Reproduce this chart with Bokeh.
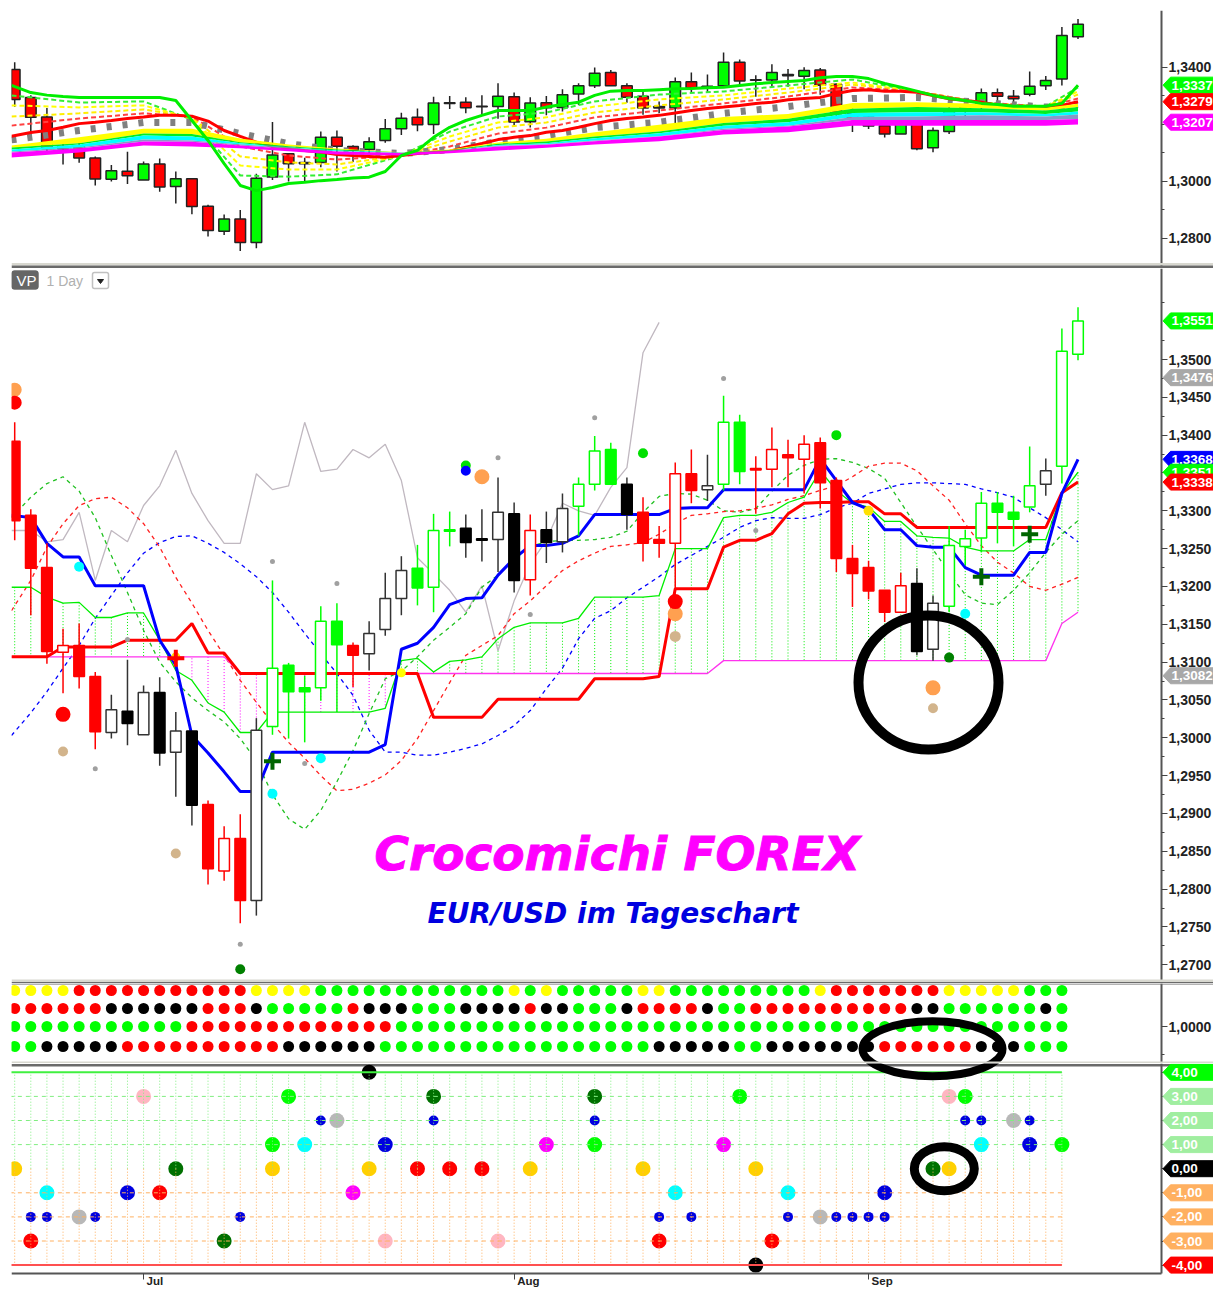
from bokeh.plotting import figure
from bokeh.layouts import column
from bokeh.embed import file_html
from bokeh.resources import INLINE
from bokeh.models import (Range1d, FixedTicker, CustomJSTickFormatter, Label, LinearAxis,
                          PolyAnnotation, BoxAnnotation)

# ---------- candles (EUR/USD daily) ----------
opens = [1.3392,1.3294,1.3225,1.3113,1.3122,1.3081,1.3007,1.3035,1.3004,1.3060,1.2981,1.3009,1.2912,1.2824,1.2867,1.2785,1.3015,
         1.3096,1.3066,1.3066,1.3154,1.3122,1.3111,1.3143,1.3184,1.3224,1.3199,1.3275,1.3277,1.3263,1.3262,1.3296,1.3209,1.3275,
         1.3259,1.3306,1.3335,1.3381,1.3335,1.3298,1.3262,1.3257,1.3349,1.3328,1.3335,1.3417,1.3356,1.3355,1.3374,1.3368,1.3390,
         1.3340,1.3237,1.3225,1.3195,1.3166,1.3204,1.3117,1.3174,1.3253,1.3264,1.3310,1.3298,1.3305,1.3335,1.3359,1.3507]
highs = [1.3417,1.3302,1.3257,1.3144,1.3151,1.3087,1.3057,1.3103,1.3069,1.3080,1.3034,1.3009,1.2917,1.2883,1.2899,1.3026,1.3208,
         1.3099,1.3082,1.3174,1.3178,1.3126,1.3154,1.3218,1.3240,1.3255,1.3296,1.3299,1.3295,1.3302,1.3344,1.3311,1.3295,1.3299,
         1.3323,1.3344,1.3399,1.3390,1.3344,1.3318,1.3280,1.3364,1.3381,1.3374,1.3452,1.3427,1.3372,1.3410,1.3394,1.3400,1.3397,
         1.3344,1.3255,1.3234,1.3195,1.3218,1.3224,1.3188,1.3280,1.3275,1.3325,1.3325,1.3320,1.3385,1.3369,1.3541,1.3569]
lows = [1.3261,1.3162,1.3098,1.3059,1.3065,1.2985,1.2999,1.2990,1.3004,1.2963,1.2922,1.2884,1.2806,1.2811,1.2755,1.2765,1.3004,
        1.2999,1.2994,1.3049,1.3034,1.3067,1.3089,1.3135,1.3162,1.3175,1.3166,1.3253,1.3238,1.3233,1.3219,1.3192,1.3188,1.3231,
        1.3245,1.3267,1.3327,1.3335,1.3275,1.3233,1.3238,1.3191,1.3310,1.3313,1.3327,1.3335,1.3296,1.3331,1.3331,1.3323,1.3303,
        1.3219,1.3173,1.3183,1.3153,1.3166,1.3109,1.3102,1.3166,1.3228,1.3245,1.3257,1.3253,1.3298,1.3320,1.3336,1.3499]
closes = [1.3287,1.3224,1.3114,1.3122,1.3081,1.3008,1.3037,1.3019,1.3060,1.2980,1.3009,1.2911,1.2827,1.2867,1.2785,1.3010,1.3092,
          1.3061,1.3061,1.3154,1.3123,1.3109,1.3138,1.3184,1.3221,1.3198,1.3274,1.3273,1.3258,1.3261,1.3298,1.3208,1.3274,1.3258,
          1.3303,1.3335,1.3379,1.3335,1.3295,1.3257,1.3257,1.3349,1.3327,1.3333,1.3417,1.3352,1.3354,1.3381,1.3370,1.3388,1.3337,
          1.3237,1.3217,1.3194,1.3166,1.3201,1.3114,1.3178,1.3254,1.3263,1.3310,1.3298,1.3289,1.3333,1.3353,1.3511,1.3551]

# ---------- signal rows (panel 3) ----------
row1 = "YYYYRRRRRRRRRRRYYYYGGGGGGGGGGGGYGYGGGGGYYGGGGGGGGGYRRRRRRRYYYYYGGG"
row2 = "RRRRRRKKKKKKRRRKGGGGGRKKKGGGKKKKRKKGGGKRRRRKGGRRRRRRRRRRKKGGGGGGKG"
row3 = "G" * 11 + "R" * 13 + "G" * 42
row4 = "GGKKKKKRRRRRRRRRRKKKKKKGGGGGGGGGGGGGGGGGKKKKKGGKKKKKKKRRRRRRKKKGGG"
row_levels = [1.36, 1.18, 1.00, 0.80]
candle_codes = row2 + "G"

# ---------- main panel lines ----------
kijun_blue = [1.3294,1.3291,1.3257,1.3239,1.3239,1.3201,1.3201,1.3201,1.3201,1.3129,1.3096,1.3003,1.2980,1.2955,1.2929,1.2929,1.2981,
              1.2981,1.2981,1.2981,1.2981,1.2981,1.2981,1.2991,1.3117,1.3125,1.3146,1.3176,1.3184,1.3185,1.3215,1.3237,1.3254,1.3254,
              1.3257,1.3267,1.3295,1.3295,1.3295,1.3295,1.3295,1.3303,1.3304,1.3304,1.3328,1.3328,1.3328,1.3328,1.3328,1.3328,1.3369,
              1.3340,1.3311,1.3302,1.3275,1.3275,1.3254,1.3252,1.3252,1.3225,1.3215,1.3215,1.3215,1.3245,1.3245,1.3323,1.3368]
tenkan_red = [1.3107,1.3107,1.3107,1.3120,1.3120,1.3120,1.3120,1.3129,1.3129,1.3129,1.3129,1.3151,1.3112,1.3112,1.3085,1.3085,1.3085,
              1.3085,1.3085,1.3085,1.3085,1.3085,1.3085,1.3085,1.3085,1.3085,1.3027,1.3027,1.3027,1.3027,1.3051,1.3051,1.3051,1.3051,
              1.3051,1.3051,1.3078,1.3078,1.3078,1.3078,1.3081,1.3197,1.3197,1.3197,1.3252,1.3261,1.3261,1.3270,1.3296,1.3310,1.3311,
              1.3311,1.3312,1.3312,1.3296,1.3296,1.3278,1.3278,1.3278,1.3278,1.3278,1.3278,1.3278,1.3278,1.3278,1.3324,1.3338]
cloud_green = [1.3199,1.3199,1.3186,1.3178,1.3179,1.3159,1.3159,1.3165,1.3165,1.3129,1.3089,1.3076,1.3046,1.3034,1.3007,1.3007,1.3034,
               1.3034,1.3034,1.3034,1.3034,1.3034,1.3034,1.3039,1.3102,1.3105,1.3087,1.3101,1.3103,1.3107,1.3131,1.3146,1.3152,1.3152,
               1.3152,1.3158,1.3186,1.3186,1.3186,1.3186,1.3188,1.3250,1.3250,1.3250,1.3291,1.3294,1.3294,1.3298,1.3311,1.3318,1.3353,
               1.3327,1.3310,1.3305,1.3286,1.3286,1.3267,1.3265,1.3264,1.3252,1.3247,1.3247,1.3247,1.3262,1.3262,1.3323,1.3351]
cloud_magenta = [1.3107]*14 + [1.3085]*30 + [1.3102]*21 + [1.3151,1.3166]
dash_blue = [1.3003,1.3033,1.3061,1.3092,1.3122,1.3158,1.3188,1.3218,1.3244,1.3258,1.3266,1.3267,1.3257,1.3245,1.3230,1.3213,1.3192,
             1.3166,1.3138,1.3111,1.3085,1.3056,1.3010,1.2981,1.2981,1.2977,1.2977,1.2981,1.2986,1.2992,1.3003,1.3016,1.3036,1.3065,
             1.3092,1.3131,1.3158,1.3168,1.3185,1.3199,1.3213,1.3229,1.3241,1.3253,1.3265,1.3278,1.3287,1.3291,1.3290,1.3290,1.3295,
             1.3304,1.3310,1.3323,1.3329,1.3335,1.3337,1.3337,1.3336,1.3335,1.3329,1.3324,1.3318,1.3304,1.3291,1.3275,1.3259]
dash_green = [1.3291,1.3318,1.3336,1.3345,1.3326,1.3291,1.3241,1.3192,1.3142,1.3100,1.3074,1.3053,1.3036,1.3021,1.2999,1.2970,1.2925,
              1.2893,1.2879,1.2904,1.2942,1.2983,1.3032,1.3078,1.3088,1.3107,1.3129,1.3146,1.3164,1.3199,1.3215,1.3237,1.3253,1.3259,
              1.3261,1.3261,1.3262,1.3265,1.3273,1.3298,1.3319,1.3323,1.3322,1.3314,1.3300,1.3298,1.3303,1.3326,1.3347,1.3360,1.3368,
              1.3369,1.3364,1.3356,1.3343,1.3311,1.3279,1.3249,1.3218,1.3189,1.3178,1.3176,1.3195,1.3218,1.3245,1.3269,1.3287]
dash_red = [1.3168,1.3208,1.3252,1.3283,1.3307,1.3316,1.3318,1.3304,1.3283,1.3252,1.3212,1.3178,1.3142,1.3109,1.3076,1.3047,1.3019,
            1.2994,1.2973,1.2950,1.2930,1.2932,1.2940,1.2951,1.2970,1.2999,1.3036,1.3073,1.3109,1.3122,1.3135,1.3164,1.3181,1.3201,
            1.3221,1.3234,1.3244,1.3253,1.3255,1.3258,1.3269,1.3283,1.3294,1.3296,1.3299,1.3300,1.3303,1.3308,1.3315,1.3320,1.3327,
            1.3333,1.3345,1.3359,1.3363,1.3363,1.3353,1.3333,1.3314,1.3283,1.3254,1.3232,1.3218,1.3200,1.3195,1.3203,1.3212]
chikou_gray = [1.3274,1.3274,1.3259,1.3262,1.3298,1.3208,1.3274,1.3259,1.3307,1.3333,1.3380,1.3323,1.3287,1.3257,1.3257,1.3349,1.3328,
               1.3333,1.3417,1.3352,1.3355,1.3381,1.3370,1.3388,1.3340,1.3238,1.3217,1.3195,1.3166,1.3201,1.3115,1.3181,1.3230,1.3261,
               1.3310,1.3300,1.3294,1.3331,1.3357,1.3509,1.3549]

# main-panel dots: bar index, price, colour, size
dot_i = [0,0,4,3,3,5,10,14,14,16,19,16,18,20,7,10,24,30,28,28,29,32,36,39,44,46,41,41,41,51,53,59,58,57,57]
dot_p = [1.3460,1.3443,1.3226,1.3031,1.2982,1.2959,1.2847,1.2727,1.2694,1.2926,1.2973,1.3233,1.2966,1.3204,1.3130,1.3107,1.3086,
         1.3370,1.3360,1.3353,1.3345,1.3163,1.3423,1.3376,1.3475,1.3274,1.3164,1.3180,1.3134,1.3400,1.3300,1.3164,1.3106,1.3066,1.3039]
dot_c = ["#ffa050","#ff0000","#00ffff","#ff0000","#d2b48c","#a0a0a0","#d2b48c","#a0a0a0","#008000","#00ffff","#00ffff","#a0a0a0",
         "#a0a0a0","#a0a0a0","#a0a0a0","#ffe000","#ffff00","#a0a0a0","#00e000","#0000ff","#ffa050","#a0a0a0","#a0a0a0","#00e000",
         "#a0a0a0","#a0a0a0","#ffa050","#ff0000","#d2b48c","#00e000","#ffe000","#00ffff","#008000","#ffa050","#d2b48c"]
dot_s = [14,14,10,15,10,5,10,5,10,10,10,5,5,5,5,9,9,5,10,10,15,5,5,10,5,5,15,15,11,10,10,10,10,15,10]
plus_i = [10,16,60,63]
plus_p = [1.3105,1.2969,1.3213,1.3269]
plus_c = ["#ff0000","#006400","#006400","#006400"]

# ---------- top panel ribbon ----------
up_green = [1.3336,1.3311,1.3302,1.3297,1.3294,1.3294,1.3294,1.3294,1.3294,1.3294,1.3283,1.3213,1.3143,1.3062,1.2985,1.2967,1.2978,
            1.2992,1.2996,1.3002,1.3006,1.3011,1.3014,1.3034,1.3090,1.3108,1.3154,1.3189,1.3213,1.3231,1.3248,1.3248,1.3248,1.3260,
            1.3269,1.3277,1.3301,1.3316,1.3318,1.3318,1.3321,1.3324,1.3325,1.3328,1.3330,1.3336,1.3342,1.3346,1.3350,1.3353,1.3363,
            1.3367,1.3367,1.3360,1.3343,1.3330,1.3316,1.3301,1.3290,1.3283,1.3273,1.3269,1.3263,1.3263,1.3263,1.3273,1.3337]
up_red = [1.3158,1.3171,1.3178,1.3189,1.3202,1.3207,1.3213,1.3220,1.3225,1.3231,1.3231,1.3228,1.3211,1.3178,1.3157,1.3137,1.3122,
          1.3115,1.3108,1.3102,1.3094,1.3090,1.3087,1.3084,1.3090,1.3097,1.3102,1.3105,1.3119,1.3132,1.3146,1.3154,1.3160,1.3172,
          1.3178,1.3189,1.3202,1.3213,1.3220,1.3225,1.3231,1.3239,1.3248,1.3255,1.3260,1.3266,1.3273,1.3277,1.3286,1.3290,1.3294,
          1.3308,1.3318,1.3321,1.3316,1.3316,1.3312,1.3301,1.3289,1.3283,1.3277,1.3266,1.3262,1.3260,1.3260,1.3266,1.3279]
rib_i = [-0.2,4,8,11,14,17,20,24,27,30,33,36,40,44,48,52,56,60,64,66]
rib_gray = [1.3145,1.3178,1.3206,1.3206,1.3167,1.3132,1.3108,1.3097,1.3111,1.3139,1.3160,1.3188,1.3207,1.3238,1.3262,1.3290,1.3294,1.3276,1.3260,1.3269]
rib_y = [1.3125,1.3154,1.3184,1.3184,1.3150,1.3129,1.3115,1.3102,1.3111,1.3136,1.3149,1.3172,1.3198,1.3225,1.3236,1.3274,1.3277,1.3272,1.3258,1.3272]
rib_g = [1.3118,1.3133,1.3167,1.3166,1.3137,1.3123,1.3111,1.3101,1.3109,1.3131,1.3139,1.3157,1.3174,1.3204,1.3219,1.3254,1.3260,1.3256,1.3248,1.3260]
rib_c = [1.3111,1.3129,1.3160,1.3157,1.3133,1.3119,1.3108,1.3101,1.3108,1.3127,1.3133,1.3151,1.3168,1.3195,1.3207,1.3239,1.3242,1.3242,1.3236,1.3245]
rib_b = [1.3104,1.3118,1.3146,1.3143,1.3129,1.3117,1.3105,1.3100,1.3107,1.3124,1.3130,1.3143,1.3158,1.3184,1.3195,1.3225,1.3227,1.3231,1.3227,1.3234]
rib_m = [1.3101,1.3115,1.3139,1.3138,1.3125,1.3115,1.3104,1.3099,1.3106,1.3122,1.3128,1.3140,1.3157,1.3180,1.3192,1.3215,1.3215,1.3215,1.3215,1.3218]
rib_e = [1.3083,1.3101,1.3125,1.3122,1.3116,1.3105,1.3094,1.3090,1.3098,1.3108,1.3117,1.3129,1.3140,1.3164,1.3172,1.3195,1.3195,1.3195,1.3195,1.3199]
ma_a = [1.3301,1.3276,1.3280,1.3216,1.3020,1.3016,1.3024,1.3090,1.3174,1.3227,1.3241,1.3280,1.3304,1.3315,1.3336,1.3357,1.3315,1.3273,1.3262,1.3329]
ma_b = [1.3266,1.3259,1.3266,1.3220,1.3055,1.3041,1.3041,1.3090,1.3157,1.3206,1.3224,1.3262,1.3287,1.3301,1.3325,1.3346,1.3315,1.3276,1.3262,1.3315]
ma_c = [1.3227,1.3238,1.3252,1.3224,1.3087,1.3066,1.3059,1.3090,1.3139,1.3188,1.3206,1.3241,1.3266,1.3287,1.3311,1.3339,1.3315,1.3276,1.3262,1.3304]
ma_d = [1.3195,1.3220,1.3238,1.3227,1.3122,1.3090,1.3076,1.3090,1.3122,1.3167,1.3188,1.3224,1.3248,1.3273,1.3297,1.3329,1.3315,1.3276,1.3262,1.3290]

# ---------- bottom panel dots: bar index, level, colour ----------
big_i = [0,1,2,4,7,8,9,10,13,16,16,17,18,20,21,22,22,23,23,25,26,27,29,30,32,33,36,36,39,40,41,44,45,46,46,47,48,50,54,57,58,58,59,60,62,63,65]
big_v = [0,-3,-1,-2,-1,3,-1,0,-3,1,0,3,1,2,-1,0,4,1,-3,0,3,0,0,-3,0,1,3,1,0,-3,-1,1,3,0,-4,-3,-1,-2,-1,0,0,3,3,1,2,1,1]
big_c = ["#ffd000","#ff0000","#00ffff","#b8b8b8","#0000e0","#ffb6c1","#ff0000","#007000","#007000","#00ff00","#ffd000","#00ff00",
         "#00ffff","#b8b8b8","#ff00ff","#ffd000","#000000","#0000e0","#ffb6c1","#ff0000","#007000","#ff0000","#ff0000","#ffb6c1",
         "#ffd000","#ff00ff","#007000","#00ff00","#ffd000","#ff0000","#00ffff","#ff00ff","#00ff00","#ffd000","#000000","#ff0000",
         "#00ffff","#b8b8b8","#0000e0","#007000","#ffd000","#ffb6c1","#00ff00","#00ffff","#b8b8b8","#0000e0","#00ff00"]
small_i = [1,2,5,14,19,26,36,40,42,48,51,52,53,54,59,60,63]
small_v = [-2,-2,-2,-2,2,2,2,-2,-2,-2,-2,-2,-2,-2,2,2,2]

# ---------- axis labels and tags ----------
top_labelled = [1.34, 1.30, 1.28]
top_minor = [1.33, 1.32, 1.31, 1.29]
main_labelled = [1.35,1.345,1.34,1.33,1.325,1.32,1.315,1.31,1.305,1.30,1.295,1.29,1.285,1.28,1.275,1.27]
main_minor = [1.3575,1.3525,1.3475,1.3425,1.3375,1.335,1.3325,1.3275,1.3225,1.3175,1.3125,1.3075,1.3025,1.2975,1.2925,1.2875,1.2825,1.2775,1.2725]
top_tags = [(1.3337, "1,3337", "#00ff00"), (1.3279, "1,3279", "#ff0000"), (1.3207, "1,3207", "#ff00ff")]
main_tags = [(1.3551, "1,3551", "#00ff00"), (1.3476, "1,3476", "#a8a8a8"), (1.3082, "1,3082", "#a8a8a8"),
             (1.3368, "1,3368", "#0000ff"), (1.3351, "1,3351", "#00ff00"), (1.3338, "1,3338", "#ff0000")]
osc_tags = [(4, "4,00", "#00ff00"), (3, "3,00", "#a0eea0"), (2, "2,00", "#a0eea0"), (1, "1,00", "#a0eea0"), (0, "0,00", "#000000"),
            (-1, "-1,00", "#ffb060"), (-2, "-2,00", "#ffb060"), (-3, "-3,00", "#ffb060"), (-4, "-4,00", "#ff0000")]
month_i = [8, 31, 53]
month_t = ["Jul", "Aug", "Sep"]

FONT = "Liberation Sans"
N = len(opens)
idx = list(range(N))
line_x = [-0.2] + idx[1:]   # line series run right up to the left edge of the panel
COL = {"R": "#ff0000", "G": "#00ff00", "K": "#000000", "Y": "#ffff00"}
W = 1213
AXIS_X = 71.186   # bar position of the price axis
x_range = Range1d(-0.1986, 74.41)
LABEL_FMT = CustomJSTickFormatter(code="return tick.toFixed(4).replace('.', ',')")
NO_LABEL = CustomJSTickFormatter(code="return ''")


def make(height, y0, y1, top, ax_lo=None, ax_hi=None):
    p = figure(width=W, height=height, x_range=x_range, y_range=Range1d(y0, y1), output_backend="svg",
               toolbar_location=None, x_axis_location=None, y_axis_location=None,
               min_border_left=11, min_border_right=0, min_border_top=top, min_border_bottom=0,
               outline_line_color=None, background_fill_color="white", border_fill_color="white")
    p.grid.visible = False
    ax = LinearAxis(fixed_location=AXIS_X)
    ax.axis_line_color = "#555555"
    ax.axis_line_width = 2
    ax.major_tick_line_color = "#444444"
    ax.minor_tick_line_color = "#444444"
    ax.major_tick_in = 0
    ax.minor_tick_in = 0
    ax.major_tick_out = 6
    ax.minor_tick_out = 3
    ax.major_label_standoff = 1
    ax.major_label_text_font = FONT
    ax.major_label_text_font_style = "bold"
    ax.major_label_text_font_size = "14px"
    ax.major_label_text_color = "#222222"
    if ax_lo is not None:
        ax.bounds = (ax_lo, ax_hi)
    p.add_layout(ax, "right")
    return p, ax


def tag(p, v, text, color, h):
    p.add_layout(PolyAnnotation(xs=[1162.5, 1170, 1214, 1214, 1170], ys=[v, v + h, v + h, v - h, v - h],
                                xs_units="canvas", ys_units="data", fill_color=color, fill_alpha=1.0,
                                line_color=color, line_alpha=1.0))
    p.add_layout(Label(x=1171, y=v, x_units="canvas", y_units="data", text=text, text_color="white",
                       text_font=FONT, text_font_style="bold", text_font_size="13.5px", text_baseline="middle"))


def band(p, top, bottom, color, level="annotation"):
    p.add_layout(BoxAnnotation(left=11, right=W, left_units="canvas", right_units="canvas", top=top, bottom=bottom,
                               fill_color=color, fill_alpha=1.0, line_color=None, level=level))


# ========== Panel 1 ==========
T = lambda y: 1.30 + (180.7 - y) / 2850
p1, ax1 = make(268, T(268), T(10), 10)
ax1.ticker = FixedTicker(ticks=top_labelled, minor_ticks=top_minor)
ax1.formatter = LABEL_FMT
bw = 0.66
p1.segment(idx, lows, idx, highs, line_color="#222222", line_width=1.5)
tops_col = ["#00ff00" if c >= o else "#ff0000" for o, c in zip(opens, closes)]
p1.vbar(idx, bw, opens, closes, fill_color=tops_col, line_color="#222222", line_width=1.5)
for ys, col in ((ma_a, "#33ee33"), (ma_b, "#ffff00"), (ma_c, "#ffee00"), (ma_d, "#ff4040")):
    p1.line(rib_i, ys, line_color=col, line_width=2, line_dash="5 3")
p1.line(rib_i, rib_gray, line_color="#808080", line_width=7, line_dash="5 11")
p1.line(line_x, up_red, line_color="#ff0000", line_width=3)
p1.varea(rib_i, rib_g, rib_y, fill_color="#ffff00")
p1.varea(rib_i, rib_c, rib_g, fill_color="#00ee22")
p1.varea(rib_i, rib_b, rib_c, fill_color="#00ffff")
p1.varea(rib_i, rib_m, rib_b, fill_color="#8898c8")
p1.varea(rib_i, rib_e, rib_m, fill_color="#ff00ff")
p1.line(line_x, up_green, line_color="#00ee00", line_width=3)
for v, t, c in top_tags:
    tag(p1, v, t, c, 8 / 2850)
band(p1, T(262.5), T(265), "#d8d8d0")
band(p1, T(265), T(267.5), "#6a6a6a")

# ========== Panel 2 ==========
M = lambda y: 1.30 + (737.3 - y) / 7566
p2, ax2 = make(715, M(983), M(268), 0)
ax2.ticker = FixedTicker(ticks=main_labelled, minor_ticks=main_minor)
ax2.formatter = LABEL_FMT
v_col = ["#00ee00" if g > m else "#ff00ff" for g, m in zip(cloud_green, cloud_magenta)]
p2.segment(idx, cloud_green, idx, cloud_magenta, line_color=v_col, line_width=1, line_dash="1 2")
p2.line(line_x[:len(chikou_gray)], chikou_gray, line_color="#c0b8c0", line_width=1.3)
p2.line(line_x, dash_blue, line_color="#0000ff", line_width=1.3, line_dash="4 4")
p2.line(line_x, dash_green, line_color="#20c020", line_width=1.3, line_dash="4 4")
p2.line(line_x, dash_red, line_color="#ff2020", line_width=1.3, line_dash="4 4")
p2.line(line_x, cloud_green, line_color="#00ee00", line_width=1.3)
p2.line(line_x, cloud_magenta, line_color="#ff33ee", line_width=1.3)
p2.line(line_x, tenkan_red, line_color="#ff0000", line_width=3)
p2.line(line_x, kijun_blue, line_color="#0000ff", line_width=3)
m_col = [COL[k] for k in candle_codes]
fills = ["white" if c > o else col for o, c, col in zip(opens, closes, m_col)]
p2.segment(idx, lows, idx, highs, line_color=[("#333333" if k == "K" else COL[k]) for k in candle_codes], line_width=1.5)
p2.vbar(idx, 0.66, opens, closes, fill_color=fills,
        line_color=[("#333333" if k == "K" and c > o else COL[k]) for k, o, c in zip(candle_codes, opens, closes)],
        line_width=1.5)
p2.scatter(dot_i, dot_p, size=dot_s, fill_color=dot_c, line_color=None)
p2.scatter(plus_i, plus_p, marker="cross", size=17, line_color=plus_c, line_width=4, fill_color=None)
p2.ellipse([56.72], [1.3073], width=140, height=134, width_units="screen", height_units="screen",
           fill_color=None, line_color="black", line_width=10)
p2.add_layout(Label(x=374, y=M(853), x_units="canvas", y_units="data", text="Crocomichi FOREX", text_color="#ff00ff",
                    text_font="DejaVu Sans", text_font_style="bold italic", text_font_size="47px", text_baseline="middle",
                    text_outline_color="#ff00ff"))
p2.add_layout(Label(x=427, y=M(913), x_units="canvas", y_units="data", text="EUR/USD im Tageschart", text_color="#0000e0",
                    text_font="DejaVu Sans", text_font_style="bold italic", text_font_size="28px", text_baseline="middle"))
p2.add_layout(BoxAnnotation(left=11, right=38, left_units="canvas", right_units="canvas", top=M(270), bottom=M(289),
                            fill_color="#666666", fill_alpha=1.0, line_color="#444444", border_radius=3))
p2.add_layout(Label(x=16, y=M(280), x_units="canvas", y_units="data", text="VP", text_color="white", text_font=FONT,
                    text_font_size="15px", text_baseline="middle"))
p2.add_layout(Label(x=46, y=M(280), x_units="canvas", y_units="data", text="1 Day", text_color="#b0b0b0", text_font=FONT,
                    text_font_size="14px", text_baseline="middle"))
p2.add_layout(BoxAnnotation(left=92, right=108, left_units="canvas", right_units="canvas", top=M(272), bottom=M(288),
                            fill_color="white", fill_alpha=1.0, line_color="#333333", line_width=1.5, border_radius=2))
p2.add_layout(PolyAnnotation(xs=[97, 103, 100], ys=[M(279), M(279), M(283)], xs_units="canvas", ys_units="data",
                             fill_color="#222222", fill_alpha=1.0, line_color="#222222", line_alpha=1.0))
for v, t, c in main_tags:
    tag(p2, v, t, c, 8 / 7566)
band(p2, M(979), M(981.5), "#d8d8d0")
band(p2, M(981.5), M(983), "#6a6a6a")

# ========== Panel 3 ==========
R = lambda y: 1 + (1026 - y) / 100
p3, ax3 = make(80, R(1063), R(983), 0)
ax3.ticker = FixedTicker(ticks=[1.0], minor_ticks=[0.72])
ax3.formatter = LABEL_FMT
for row, lev in zip((row1, row2, row3, row4), row_levels):
    xs = list(range(len(row)))
    p3.scatter(xs, [lev] * len(row), size=11, fill_color=[COL[k] for k in row], line_color=None)
p3.ellipse([56.97], [0.777], width=140, height=55, width_units="screen", height_units="screen",
           fill_color=None, line_color="black", line_width=8)
band(p3, R(983), R(984), "#6a6a6a")
band(p3, R(1061), R(1062.5), "#d8d8d0")

# ========== Panel 4 ==========
O = lambda y: (1168.2 - y) / 24.1
p4, ax4 = make(226, O(1289), O(1063), 0, O(1273), O(1063))
ax4.ticker = FixedTicker(ticks=[-4, -3, -2, -1, 0, 1, 2, 3, 4], minor_ticks=[])
ax4.formatter = NO_LABEL
band(p4, O(1063.5), O(1066), "#6a6a6a", level="underlay")
xa = LinearAxis(fixed_location=O(1273), ticker=FixedTicker(ticks=month_i, minor_ticks=[]), formatter=NO_LABEL,
                bounds=(-0.1986, AXIS_X))
xa.axis_line_color = "#555555"
xa.axis_line_width = 2
xa.major_tick_line_color = "#444444"
xa.major_tick_in = 0
xa.major_tick_out = 6
xa.major_label_text_font_size = "1px"
p4.add_layout(xa, "below")
p4.scatter(big_i, big_v, size=15, fill_color=big_c, line_color=None)
p4.scatter(small_i, small_v, size=10, fill_color="#0000e0", line_color=None)
osc_i = list(range(66))
p4.segment(osc_i, [0] * 66, osc_i, [4] * 66, line_color="#80ee80", line_width=1, line_dash="1 2")
p4.segment(osc_i, [0] * 66, osc_i, [-4] * 66, line_color="#ffb060", line_width=1, line_dash="1 2")
p4.multi_line([[-0.3, 65]] * 3, [[v, v] for v in (1, 2, 3)], line_color="#80ee80", line_width=1, line_dash="4 4")
p4.multi_line([[-0.3, 65]] * 3, [[v, v] for v in (-1, -2, -3)], line_color="#ffb060", line_width=1, line_dash="4 4")
p4.line([-0.3, 65], [4, 4], line_color="#40f040", line_width=2)
p4.line([-0.3, 65], [-4, -4], line_color="#ff5050", line_width=2)
p4.ellipse([56.97], [4.975], width=140, height=55, width_units="screen", height_units="screen",
           fill_color=None, line_color="black", line_width=8)
p4.ellipse([57.7], [0], width=60, height=44, width_units="screen", height_units="screen",
           fill_color=None, line_color="black", line_width=9)
for i, t in zip(month_i, month_t):
    p4.add_layout(Label(x=i, y=O(1274.5), x_units="data", y_units="data", x_offset=3, text=t, text_color="#222222",
                        text_font=FONT, text_font_style="bold", text_font_size="11.5px", text_baseline="top"))
for v, t, c in osc_tags:
    tag(p4, v, t, c, 8 / 24.1)

layout = column(p1, p2, p3, p4, spacing=0)
open("out.html", "w").write(file_html(layout, INLINE))
